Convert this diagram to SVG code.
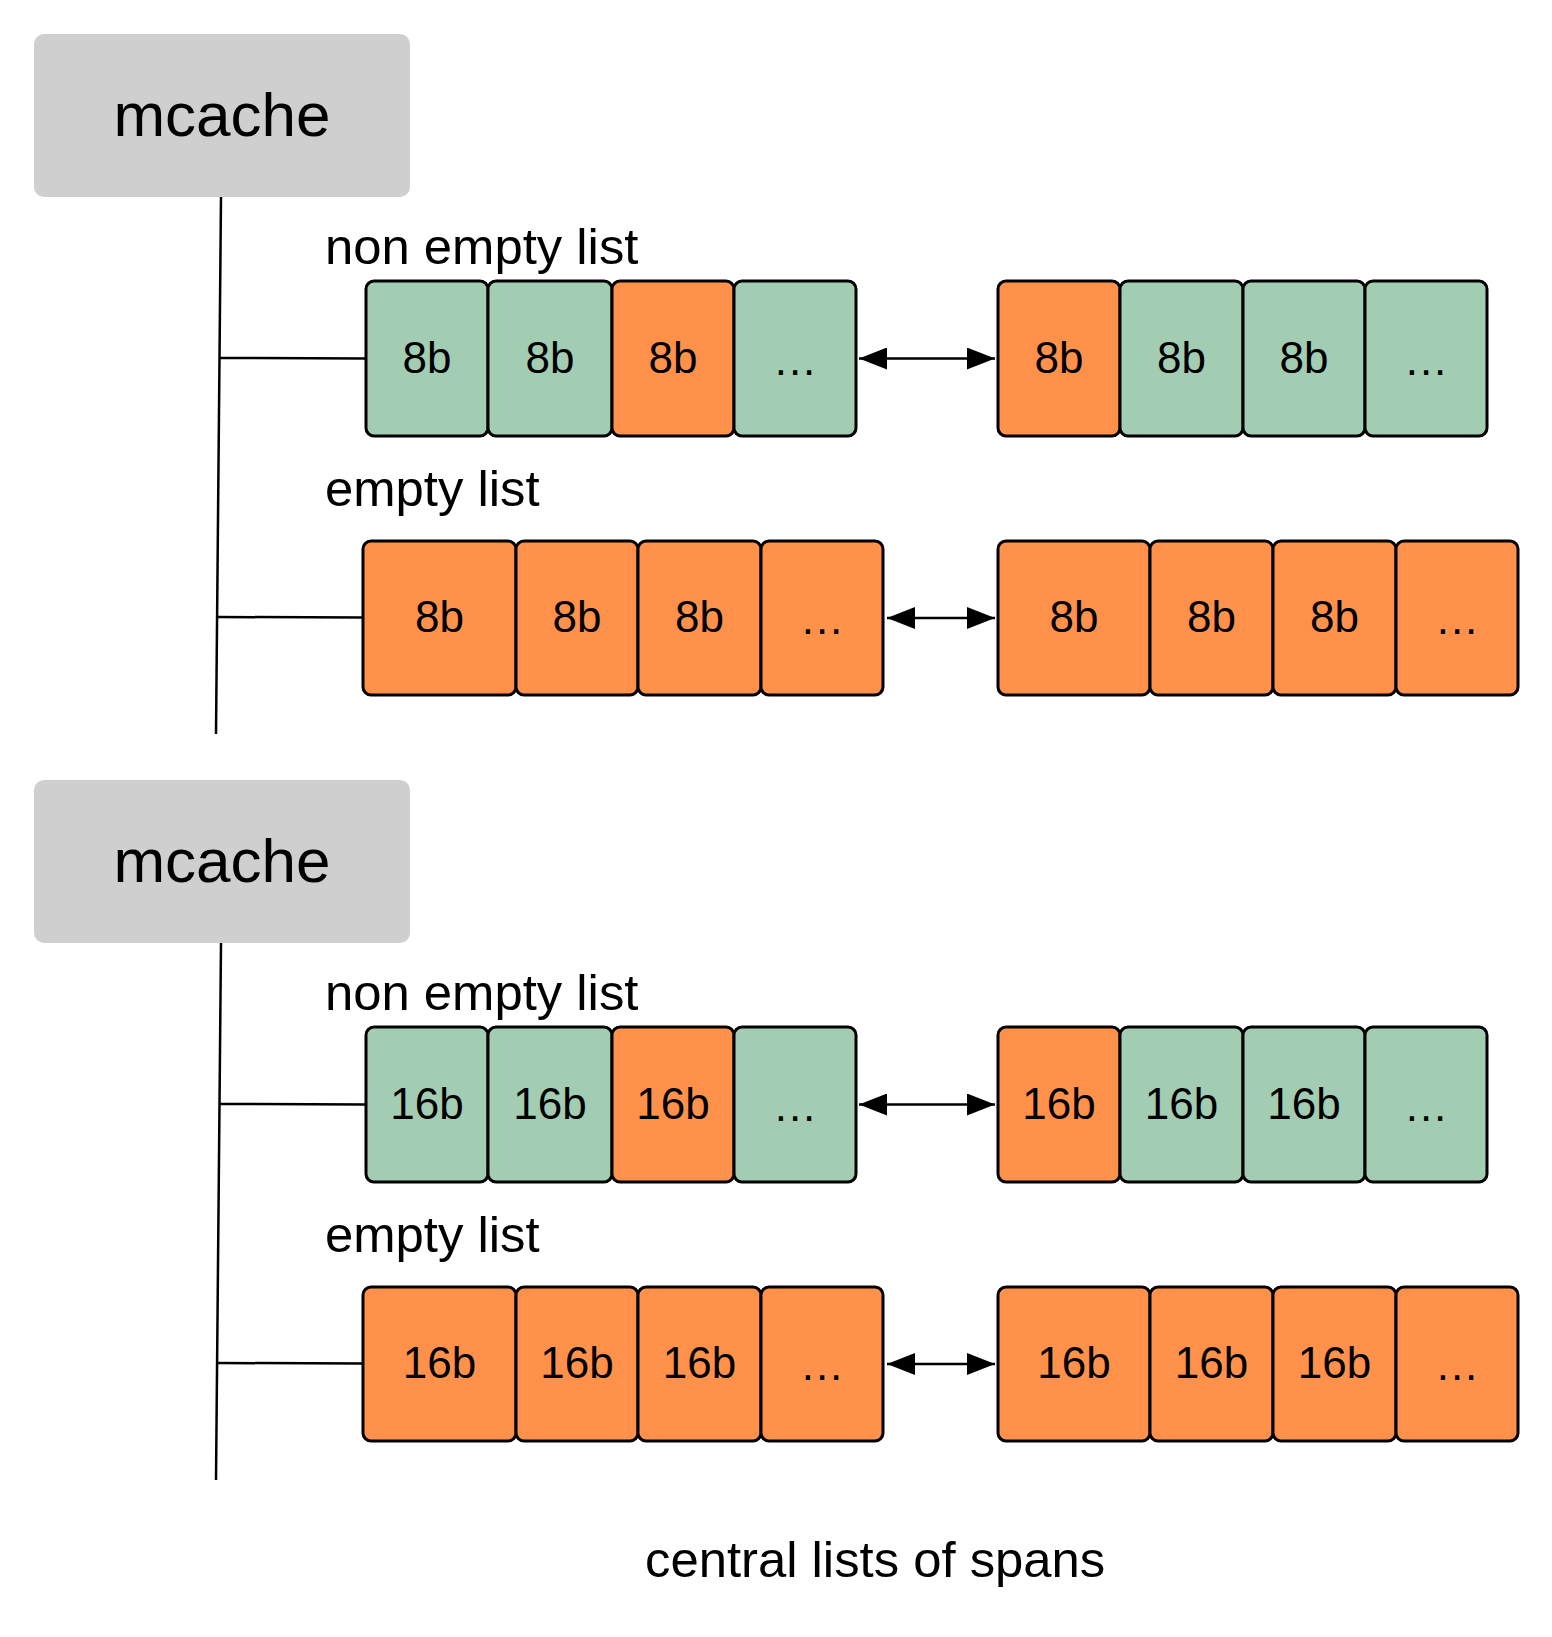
<svg xmlns="http://www.w3.org/2000/svg" width="1552" height="1637" viewBox="0 0 1552 1637">
<style>
.bg{fill:#ffffff}
.mc{fill:#cfcfcf}
.mct{font-family:"Liberation Sans",Arial,sans-serif;font-size:62px;fill:#000;text-anchor:middle}
.lbl{font-family:"Liberation Sans",Arial,sans-serif;font-size:50.8px;fill:#000}
.g{fill:#a2cdb2;stroke:#000;stroke-width:3}
.o{fill:#ff914b;stroke:#000;stroke-width:3}
.ct{font-family:"Liberation Sans",Arial,sans-serif;font-size:44px;fill:#000;text-anchor:middle}
.dt{font-family:"Liberation Sans",Arial,sans-serif;font-size:44px;fill:#000;text-anchor:middle;letter-spacing:2px}
.ln{stroke:#000;stroke-width:2.5;fill:none}
.ar{stroke:#000;stroke-width:2.5;fill:none;marker-start:url(#ah);marker-end:url(#ah)}
</style>
<defs>
<marker id="ah" markerUnits="userSpaceOnUse" viewBox="0 0 28 22" markerWidth="28" markerHeight="22" refX="28" refY="11" orient="auto-start-reverse">
<path d="M0,0 L28,11 L0,22 z" fill="#000"/>
</marker>
</defs>
<rect class="bg" x="0" y="0" width="1552" height="1637"/>

<g id="connectors">
<path class="ln" d="M221,197 L216,734"/>
<path class="ln" d="M220,358 L366,358.5"/>
<path class="ln" d="M218,617 L363,617.5"/>
<path class="ar" d="M859,358.5 L995,358.5"/>
<path class="ar" d="M887,618 L995,618"/>
<path class="ln" d="M221,943 L216,1480"/>
<path class="ln" d="M220,1104 L366,1104.5"/>
<path class="ln" d="M218,1363 L363,1363.5"/>
<path class="ar" d="M859,1104.5 L995,1104.5"/>
<path class="ar" d="M887,1364 L995,1364"/>
</g>

<g id="mcache1"><rect class="mc" x="34" y="34" width="376" height="163" rx="10"/><text class="mct" x="222" y="136">mcache</text></g>
<g id="label-nonempty1"><text class="lbl" x="325" y="264">non empty list</text></g>
<g id="label-empty1"><text class="lbl" x="325" y="506">empty list</text></g>

<g id="b1-ne-l1"><rect class="g" x="366" y="281" width="122" height="155" rx="8"/><text class="ct" x="427" y="373">8b</text></g>
<g id="b1-ne-l2"><rect class="g" x="488" y="281" width="124" height="155" rx="8"/><text class="ct" x="550" y="373">8b</text></g>
<g id="b1-ne-l3"><rect class="o" x="612" y="281" width="122" height="155" rx="8"/><text class="ct" x="673" y="373">8b</text></g>
<g id="b1-ne-l4"><rect class="g" x="734" y="281" width="122" height="155" rx="8"/><text class="dt" x="796" y="375">...</text></g>
<g id="b1-ne-r1"><rect class="o" x="998" y="281" width="122" height="155" rx="8"/><text class="ct" x="1059" y="373">8b</text></g>
<g id="b1-ne-r2"><rect class="g" x="1120" y="281" width="123" height="155" rx="8"/><text class="ct" x="1181.5" y="373">8b</text></g>
<g id="b1-ne-r3"><rect class="g" x="1243" y="281" width="122" height="155" rx="8"/><text class="ct" x="1304" y="373">8b</text></g>
<g id="b1-ne-r4"><rect class="g" x="1365" y="281" width="122" height="155" rx="8"/><text class="dt" x="1427" y="375">...</text></g>

<g id="b1-e-l1"><rect class="o" x="363" y="541" width="153" height="154" rx="8"/><text class="ct" x="439.5" y="632">8b</text></g>
<g id="b1-e-l2"><rect class="o" x="516" y="541" width="122" height="154" rx="8"/><text class="ct" x="577" y="632">8b</text></g>
<g id="b1-e-l3"><rect class="o" x="638" y="541" width="123" height="154" rx="8"/><text class="ct" x="699.5" y="632">8b</text></g>
<g id="b1-e-l4"><rect class="o" x="761" y="541" width="122" height="154" rx="8"/><text class="dt" x="823" y="634">...</text></g>
<g id="b1-e-r1"><rect class="o" x="998" y="541" width="152" height="154" rx="8"/><text class="ct" x="1074" y="632">8b</text></g>
<g id="b1-e-r2"><rect class="o" x="1150" y="541" width="123" height="154" rx="8"/><text class="ct" x="1211.5" y="632">8b</text></g>
<g id="b1-e-r3"><rect class="o" x="1273" y="541" width="123" height="154" rx="8"/><text class="ct" x="1334.5" y="632">8b</text></g>
<g id="b1-e-r4"><rect class="o" x="1396" y="541" width="122" height="154" rx="8"/><text class="dt" x="1458" y="634">...</text></g>

<g id="mcache2"><rect class="mc" x="34" y="780" width="376" height="163" rx="10"/><text class="mct" x="222" y="882">mcache</text></g>
<g id="label-nonempty2"><text class="lbl" x="325" y="1010">non empty list</text></g>
<g id="label-empty2"><text class="lbl" x="325" y="1252">empty list</text></g>

<g id="b2-ne-l1"><rect class="g" x="366" y="1027" width="122" height="155" rx="8"/><text class="ct" x="427" y="1119">16b</text></g>
<g id="b2-ne-l2"><rect class="g" x="488" y="1027" width="124" height="155" rx="8"/><text class="ct" x="550" y="1119">16b</text></g>
<g id="b2-ne-l3"><rect class="o" x="612" y="1027" width="122" height="155" rx="8"/><text class="ct" x="673" y="1119">16b</text></g>
<g id="b2-ne-l4"><rect class="g" x="734" y="1027" width="122" height="155" rx="8"/><text class="dt" x="796" y="1121">...</text></g>
<g id="b2-ne-r1"><rect class="o" x="998" y="1027" width="122" height="155" rx="8"/><text class="ct" x="1059" y="1119">16b</text></g>
<g id="b2-ne-r2"><rect class="g" x="1120" y="1027" width="123" height="155" rx="8"/><text class="ct" x="1181.5" y="1119">16b</text></g>
<g id="b2-ne-r3"><rect class="g" x="1243" y="1027" width="122" height="155" rx="8"/><text class="ct" x="1304" y="1119">16b</text></g>
<g id="b2-ne-r4"><rect class="g" x="1365" y="1027" width="122" height="155" rx="8"/><text class="dt" x="1427" y="1121">...</text></g>

<g id="b2-e-l1"><rect class="o" x="363" y="1287" width="153" height="154" rx="8"/><text class="ct" x="439.5" y="1378">16b</text></g>
<g id="b2-e-l2"><rect class="o" x="516" y="1287" width="122" height="154" rx="8"/><text class="ct" x="577" y="1378">16b</text></g>
<g id="b2-e-l3"><rect class="o" x="638" y="1287" width="123" height="154" rx="8"/><text class="ct" x="699.5" y="1378">16b</text></g>
<g id="b2-e-l4"><rect class="o" x="761" y="1287" width="122" height="154" rx="8"/><text class="dt" x="823" y="1380">...</text></g>
<g id="b2-e-r1"><rect class="o" x="998" y="1287" width="152" height="154" rx="8"/><text class="ct" x="1074" y="1378">16b</text></g>
<g id="b2-e-r2"><rect class="o" x="1150" y="1287" width="123" height="154" rx="8"/><text class="ct" x="1211.5" y="1378">16b</text></g>
<g id="b2-e-r3"><rect class="o" x="1273" y="1287" width="123" height="154" rx="8"/><text class="ct" x="1334.5" y="1378">16b</text></g>
<g id="b2-e-r4"><rect class="o" x="1396" y="1287" width="122" height="154" rx="8"/><text class="dt" x="1458" y="1380">...</text></g>

<g id="caption"><text class="lbl" x="645" y="1577">central lists of spans</text></g>
</svg>
